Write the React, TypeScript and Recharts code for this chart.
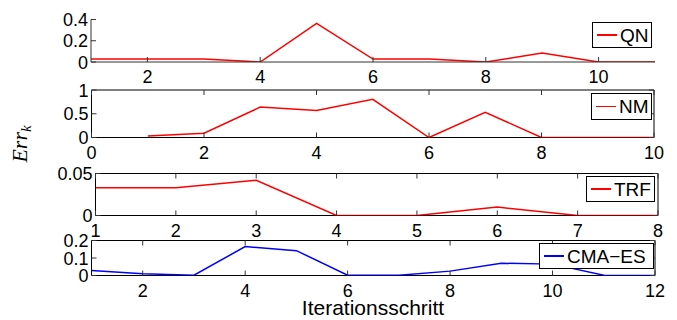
import React from "react";
import {
  LineChart,
  Line,
  XAxis,
  YAxis,
  Legend,
  ReferenceArea,
} from "recharts";

// Fehlerverlauf je Verfahren
const qnSteps = [1, 2, 3, 4, 5, 6, 7, 8, 9, 10, 11];
const qnErr = [0.028, 0.028, 0.028, 0, 0.364, 0.028, 0.028, 0, 0.084, 0, 0];

const nmSteps = [1, 2, 3, 4, 5, 6, 7, 8, 9, 10];
const nmErr = [0.03, 0.09, 0.64, 0.57, 0.805, 0, 0.53, 0, 0, 0];

const trfSteps = [1, 2, 3, 4, 5, 6, 7, 8];
const trfErr = [0.033, 0.033, 0.042, 0, 0, 0.01, 0, 0];

const cmaSteps = [1, 2, 3, 4, 5, 6, 7, 8, 9, 10, 11, 12];
const cmaErr = [0.029, 0.01, 0.002, 0.165, 0.142, 0.002, 0.002, 0.025, 0.07, 0.065, 0.002, 0];

const qnXTicks = [2, 4, 6, 8, 10];
const qnYTicks = [0, 0.2, 0.4];
const nmXTicks = [0, 2, 4, 6, 8, 10];
const nmYTicks = [0, 0.5, 1];
const trfXTicks = [1, 2, 3, 4, 5, 6, 7, 8];
const trfYTicks = [0, 0.05];
const cmaXTicks = [2, 4, 6, 8, 10, 12];
const cmaYTicks = [0, 0.1, 0.2];

const W = 677;
const H = 320;
const Y_AXIS_W = 40;
const X_AXIS_H = 30;
const TICK_LEN = 5;
const FONT = "'Liberation Sans', Arial, Helvetica, sans-serif";

type Panel = {
  name: string;
  color: string;
  steps: number[];
  values: number[];
  xDomain: [number, number];
  yDomain: [number, number];
  xTicks: number[];
  yTicks: number[];
  box: boolean;
  // Plotbereich in Pixeln
  left: number;
  right: number;
  top: number;
  bottom: number;
  legend: { left: number; top: number; width: number; height: number };
};

const panels: Panel[] = [
  {
    name: "QN",
    color: "#ff0000",
    steps: qnSteps,
    values: qnErr,
    xDomain: [1, 11],
    yDomain: [0, 0.4],
    xTicks: qnXTicks,
    yTicks: qnYTicks,
    box: false,
    left: 91,
    right: 655,
    top: 19.5,
    bottom: 62,
    legend: { left: 592, top: 22, width: 60, height: 26 },
  },
  {
    name: "NM",
    color: "#ff0000",
    steps: nmSteps,
    values: nmErr,
    xDomain: [0, 10],
    yDomain: [0, 1],
    xTicks: nmXTicks,
    yTicks: nmYTicks,
    box: true,
    left: 91.5,
    right: 654,
    top: 90,
    bottom: 137.5,
    legend: { left: 591, top: 93, width: 61, height: 27 },
  },
  {
    name: "TRF",
    color: "#ff0000",
    steps: trfSteps,
    values: trfErr,
    xDomain: [1, 8],
    yDomain: [0, 0.05],
    xTicks: trfXTicks,
    yTicks: trfYTicks,
    box: true,
    left: 95.5,
    right: 658,
    top: 173.5,
    bottom: 215.5,
    legend: { left: 586, top: 176, width: 69, height: 26 },
  },
  {
    name: "CMA\u2212ES",
    color: "#0000ff",
    steps: cmaSteps,
    values: cmaErr,
    xDomain: [1, 12],
    yDomain: [0, 0.2],
    xTicks: cmaXTicks,
    yTicks: cmaYTicks,
    box: true,
    left: 91.5,
    right: 655,
    top: 240.5,
    bottom: 275.5,
    legend: { left: 539, top: 243, width: 115, height: 26 },
  },
];

function makeXTick(plotH: number, box: boolean) {
  return function XTick(props: any) {
    const { x, y, payload } = props;
    return (
      <g>
        <line x1={x} y1={y} x2={x} y2={y - TICK_LEN} stroke="#333" strokeWidth={1} />
        {box && (
          <line x1={x} y1={y - plotH} x2={x} y2={y - plotH + TICK_LEN} stroke="#333" strokeWidth={1} />
        )}
        <text x={x} y={y + 21} textAnchor="middle" fontSize={18} fontFamily={FONT} fill="#000">
          {String(payload.value)}
        </text>
      </g>
    );
  };
}

function makeYTick(plotW: number, box: boolean) {
  return function YTick(props: any) {
    const { x, y, payload } = props;
    return (
      <g>
        <line x1={x} y1={y} x2={x + TICK_LEN} y2={y} stroke="#333" strokeWidth={1} />
        {box && (
          <line x1={x + plotW} y1={y} x2={x + plotW - TICK_LEN} y2={y} stroke="#333" strokeWidth={1} />
        )}
        <text x={x - 3} y={y + 6.5} textAnchor="end" fontSize={18} fontFamily={FONT} fill="#000">
          {String(payload.value)}
        </text>
      </g>
    );
  };
}

function LegendBox({ payload }: { payload?: Array<{ value: string; color: string }> }) {
  const entry = (payload ?? [])[0];
  if (!entry) return null;
  return (
    <div
      style={{
        boxSizing: "border-box",
        width: "100%",
        height: "100%",
        border: "1px solid #000",
        background: "#fff",
        display: "flex",
        alignItems: "center",
        paddingLeft: 4,
        fontFamily: FONT,
      }}
    >
      <span
        style={{
          display: "inline-block",
          width: 20,
          height: 1.5,
          background: entry.color,
          marginRight: 3,
        }}
      />
      <span style={{ fontSize: 19, lineHeight: 1, color: "#000" }}>{entry.value}</span>
    </div>
  );
}

function PanelChart({ p }: { p: Panel }) {
  const data = p.steps.map((s, i) => ({ step: s, err: p.values[i] }));
  const plotW = p.right - p.left;
  const plotH = p.bottom - p.top;
  return (
    <div style={{ position: "absolute", left: 0, top: 0 }}>
      <LineChart
        width={W}
        height={H}
        data={data}
        margin={{
          top: p.top,
          right: W - p.right,
          left: p.left - Y_AXIS_W,
          bottom: H - p.bottom - X_AXIS_H,
        }}
      >
        <XAxis
          dataKey="step"
          type="number"
          domain={p.xDomain}
          ticks={p.xTicks}
          interval={0}
          allowDataOverflow
          height={X_AXIS_H}
          tickSize={0}
          tickMargin={0}
          tickLine={false}
          axisLine={p.box ? false : { stroke: "#333", strokeWidth: 1 }}
          tick={makeXTick(plotH, p.box)}
        />
        <YAxis
          type="number"
          domain={p.yDomain}
          ticks={p.yTicks}
          interval={0}
          allowDataOverflow
          width={Y_AXIS_W}
          tickSize={0}
          tickMargin={0}
          tickLine={false}
          axisLine={p.box ? false : { stroke: "#333", strokeWidth: 1 }}
          tick={makeYTick(plotW, p.box)}
        />
        {p.box && (
          <ReferenceArea
            x1={p.xDomain[0]}
            x2={p.xDomain[1]}
            y1={p.yDomain[0]}
            y2={p.yDomain[1]}
            fill="none"
            fillOpacity={0}
            stroke="#000"
            strokeWidth={1}
          />
        )}
        <Legend
          layout="horizontal"
          verticalAlign="middle"
          align="center"
          wrapperStyle={{
            left: p.legend.left,
            top: p.legend.top,
            width: p.legend.width,
            height: p.legend.height,
          }}
          content={<LegendBox />}
        />
        <Line
          type="linear"
          dataKey="err"
          name={p.name}
          stroke={p.color}
          strokeWidth={1.5}
          dot={false}
          activeDot={false}
          isAnimationActive={false}
        />
      </LineChart>
    </div>
  );
}

export default function App() {
  return (
    <div
      style={{
        position: "absolute",
        left: 0,
        top: 0,
        width: W,
        height: H,
        background: "#fff",
        overflow: "hidden",
      }}
    >
      {panels.map((p) => (
        <PanelChart key={p.name} p={p} />
      ))}
      <svg
        width={W}
        height={H}
        style={{ position: "absolute", left: 0, top: 0, pointerEvents: "none" }}
      >
        <text
          transform="translate(27,144) rotate(-90)"
          textAnchor="middle"
          fontFamily="'Liberation Serif', 'Times New Roman', serif"
          fontStyle="italic"
          fontSize={22}
          fill="#000"
        >
          Err
          <tspan fontSize={15} dy={4}>
            k
          </tspan>
        </text>
        <text
          x={373}
          y={315}
          textAnchor="middle"
          fontFamily={FONT}
          fontSize={21}
          fill="#000"
        >
          Iterationsschritt
        </text>
      </svg>
    </div>
  );
}
